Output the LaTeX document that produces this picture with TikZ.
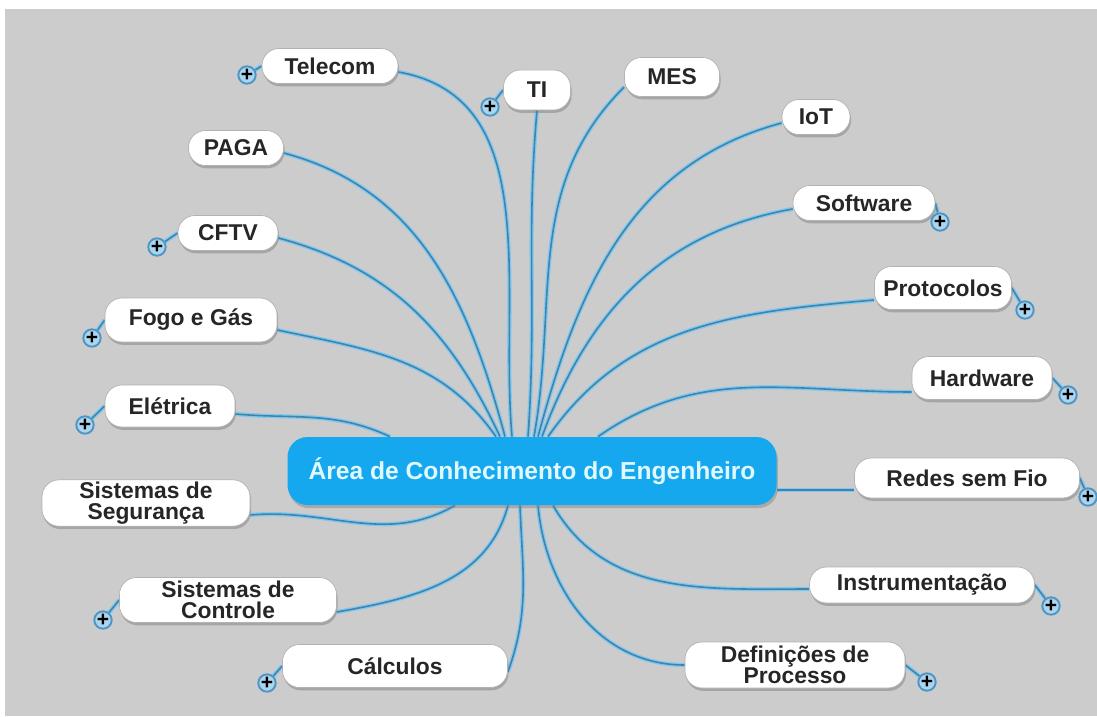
\documentclass[tikz,border=0pt]{standalone}
\usepackage{fontspec}
\setmainfont{Liberation Sans}
\usetikzlibrary{shadows,backgrounds}
\definecolor{fundo}{RGB}{204,204,204}
\definecolor{azulcentro}{RGB}{22,168,238}
\definecolor{textocentro}{RGB}{224,248,255}
\definecolor{linha}{RGB}{62,132,172}
\definecolor{brilho}{RGB}{130,200,238}
\definecolor{mais}{RGB}{172,212,236}
\definecolor{aromais}{RGB}{78,150,198}
\definecolor{textofolha}{RGB}{38,38,38}
\newlength\px
\setlength\px{0.02cm}

\begin{document}
\begin{tikzpicture}[x=0.02cm, y=-0.02cm,
    folha/.style={draw=gray!60, fill=white, rounded corners=17\px, minimum height=35\px,
        inner sep=1pt, text=textofolha, align=center,
        font=\bfseries\fontsize{13}{12.2}\selectfont,
        drop shadow={shadow xshift=0.6pt, shadow yshift=-1.6pt, opacity=0.5}},
    centro/.style={fill=azulcentro, rounded corners=20\px, minimum width=489\px,
        minimum height=68\px, text=textocentro, font=\bfseries\fontsize{14}{14}\selectfont,
        drop shadow={shadow xshift=0.8pt, shadow yshift=-1.8pt, opacity=0.45}},
    ligacao/.style={draw=linha, line width=0.9pt, preaction={draw=brilho, line width=2.4pt}},
    botao/.style={circle, draw=aromais, line width=1.1pt, fill=mais, minimum size=15\px,
        inner sep=0pt, font=\bfseries\fontsize{12}{12}\selectfont}]
    \useasboundingbox (0,0) rectangle (1097,716);

    \node[centro] (hub) at (532,471) {Área de Conhecimento do Engenheiro};

    \node[folha, minimum width=136\px] (telecom) at (330,66) {Telecom};
    \node[folha, minimum width=67\px, minimum height=40\px] (ti) at (537,90) {TI};
    \node[folha, minimum width=95\px, minimum height=39\px] (mes) at (672,77) {MES};
    \node[folha, minimum width=68\px] (iot) at (816,117) {IoT};
    \node[folha, minimum width=95\px] (paga) at (236,148) {PAGA};
    \node[folha, minimum width=142\px] (software) at (864,203) {Software};
    \node[folha, minimum width=100\px] (cftv) at (228,233) {CFTV};
    \node[folha, minimum width=137\px, minimum height=43\px] (protocolos) at (943,288) {Protocolos};
    \node[folha, minimum width=172\px, minimum height=44\px] (fogo) at (191,320) {Fogo e Gás};
    \node[folha, minimum width=140\px, minimum height=43\px] (hardware) at (982,378) {Hardware};
    \node[folha, minimum width=130\px, minimum height=42\px] (eletrica) at (170,406) {Elétrica};
    \node[folha, minimum width=225\px, minimum height=40\px] (redes) at (967,478) {Redes sem Fio};
    \node[folha, minimum width=208\px, minimum height=42\px] (seguranca) at (146,503) {Sistemas de\\Segurança};
    \node[folha, minimum width=225\px, minimum height=36\px] (instrumentacao) at (922,585) {Instrumentação};
    \node[folha, minimum width=217\px, minimum height=45\px] (controle) at (228,600) {Sistemas de\\Controle};
    \node[folha, minimum width=225\px, minimum height=43\px] (calculos) at (395,666) {Cálculos};
    \node[folha, minimum width=220\px, minimum height=46\px] (definicoes) at (795,665) {Definições de\\Processo};

    \node[botao] (btelecom) at (247,75) {+};
    \node[botao] (bti) at (490,107) {+};
    \node[botao] (bsoftware) at (940,222) {+};
    \node[botao] (bcftv) at (157,247) {+};
    \node[botao] (bprotocolos) at (1025,310) {+};
    \node[botao] (bfogo) at (92,338) {+};
    \node[botao] (bhardware) at (1068,395) {+};
    \node[botao] (beletrica) at (85,425) {+};
    \node[botao] (bredes) at (1088,497) {+};
    \node[botao] (binstrumentacao) at (1051,606) {+};
    \node[botao] (bcontrole) at (103,620) {+};
    \node[botao] (bcalculos) at (267,683) {+};
    \node[botao] (bdefinicoes) at (927,682) {+};

    \coordinate (rf) at ([yshift=-12\px]redes.west);

    \begin{scope}[on background layer]
        \fill[fundo] (5,9) rectangle (1097,716);
        \draw[ligacao] ([xshift=-20\px]hub.north) to[out=95,in=-10] ([yshift=-6\px]telecom.east);
        \draw[ligacao] ([xshift=-27\px]hub.north) to[out=105,in=-15] ([yshift=-5\px]paga.east);
        \draw[ligacao] ([xshift=-32\px]hub.north) to[out=115,in=-15] ([yshift=-5\px]cftv.east);
        \draw[ligacao] ([xshift=-36\px]hub.north) to[out=125,in=-12] ([yshift=-10\px]fogo.east);
        \draw[ligacao] ([xshift=-142\px]hub.north) to[out=155,in=-5] ([yshift=-8\px]eletrica.east);
        \draw[ligacao] ([xshift=-4\px]hub.north) to[out=86,in=-95] (ti.south);
        \draw[ligacao] ([xshift=2\px]hub.north) to[out=80,in=-135] ([yshift=-10\px]mes.west);
        \draw[ligacao] ([xshift=6\px]hub.north) to[out=75,in=195] ([yshift=-6\px]iot.west);
        \draw[ligacao] ([xshift=10\px]hub.north) to[out=70,in=190] ([yshift=-6\px]software.west);
        \draw[ligacao] ([xshift=16\px]hub.north) to[out=55,in=185] ([yshift=-12\px]protocolos.west);
        \draw[ligacao] ([xshift=66\px]hub.north) to[out=35,in=180] ([yshift=-14\px]hardware.west);
        \draw[ligacao] (rf) -- (rf -| hub.east);
        \draw[ligacao] ([xshift=-77\px]hub.south) to[out=-150,in=5] ([yshift=-12\px]seguranca.east);
        \draw[ligacao] ([xshift=-24\px]hub.south) to[out=-105,in=10] ([yshift=-12\px]controle.east);
        \draw[ligacao] ([xshift=-12\px]hub.south) to[out=-88,in=70] ([yshift=-6\px]calculos.east);
        \draw[ligacao] ([xshift=6\px]hub.south) to[out=-85,in=180] (definicoes.west);
        \draw[ligacao] ([xshift=21\px]hub.south) to[out=-60,in=180] ([yshift=-4\px]instrumentacao.west);

        \draw[ligacao] (btelecom) -- (telecom.west);
        \draw[ligacao] (bti) -- (ti.west);
        \draw[ligacao] (bsoftware) -- (software.east);
        \draw[ligacao] (bcftv) -- (cftv.west);
        \draw[ligacao] (bprotocolos) -- (protocolos.east);
        \draw[ligacao] (bfogo) -- (fogo.west);
        \draw[ligacao] (bhardware) -- (hardware.east);
        \draw[ligacao] (beletrica) -- (eletrica.west);
        \draw[ligacao] (bredes) -- (redes.east);
        \draw[ligacao] (binstrumentacao) -- (instrumentacao.east);
        \draw[ligacao] (bcontrole) -- (controle.west);
        \draw[ligacao] (bcalculos) -- (calculos.west);
        \draw[ligacao] (bdefinicoes) -- (definicoes.east);
    \end{scope}
\end{tikzpicture}
\end{document}
